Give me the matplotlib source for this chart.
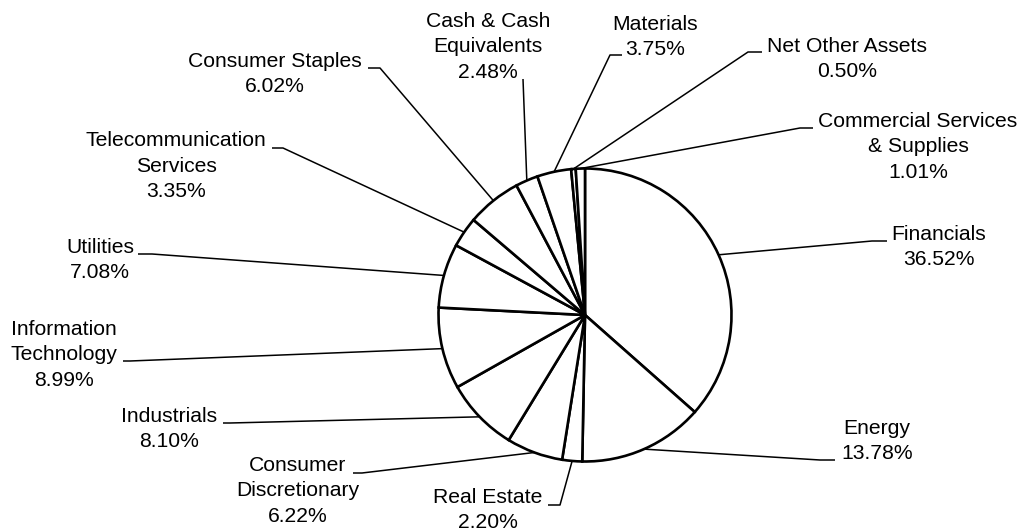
import matplotlib
matplotlib.use("Agg")
import matplotlib.pyplot as plt
import numpy as np

# data (clockwise from 12 o'clock)
sectors = ["Financials", "Energy", "Real Estate", "Consumer\nDiscretionary",
           "Industrials", "Information\nTechnology", "Utilities",
           "Telecommunication\nServices", "Consumer Staples",
           "Cash & Cash\nEquivalents", "Materials", "Net Other Assets",
           "Commercial Services\n& Supplies"]
weights = [36.52, 13.78, 2.20, 6.22, 8.10, 8.99, 7.08, 3.35, 6.02, 2.48, 3.75, 0.50, 1.01]

# figure in pixel units (y measured from top, converted below)
W, H = 1021, 531
cx, cy, r = 585, 315, 146.5

# label layout: text centre x, y ; leader elbow x0, x1, y
layout = [
    (939, 247, 872, 887, 241),
    (877, 441, 820, 835, 460),
    (488, 510, 548, 560, 505),
    (298, 491, 353, 362, 473),
    (169, 429, 223, 230, 423),
    (64, 355, 123, 130, 361),
    (100, 260, 138, 152, 254),
    (176, 166, 272, 283, 148),
    (275, 74, 368, 380, 68),
    (488, 47, 523, 523, 79),
    (655, 37, 610, 622, 55),
    (847, 59, 748, 762, 52),
    (918, 147, 800, 813, 128),
]

plt.rcParams['font.family'] = ['Liberation Sans', 'DejaVu Sans']

fig = plt.figure(figsize=(W / 100, H / 100), dpi=100)
ax = fig.add_axes([0, 0, 1, 1])

wedges, _ = ax.pie(weights,
                   startangle=90,
                   counterclock=False,
                   center=(cx, H - cy),
                   radius=r,
                   colors=["white"] * len(weights),
                   wedgeprops=dict(edgecolor="black", linewidth=1.9))

ax.set_xlim(0, W)
ax.set_ylim(0, H)
ax.set_aspect("equal")
ax.axis("off")

for w, name, val, (tx, ty, x0, x1, ly) in zip(wedges, sectors, weights, layout):
    mid = np.deg2rad((w.theta1 + w.theta2) / 2)
    px = w.center[0] + w.r * np.cos(mid)
    py = w.center[1] + w.r * np.sin(mid)
    # elbow end nearest the pie
    if abs(x0 - px) < abs(x1 - px):
        near, far = x0, x1
    else:
        near, far = x1, x0
    ax.plot([far, near, px], [H - ly, H - ly, py], color="black", linewidth=1.1,
            solid_capstyle="butt")
    ax.text(tx, H - ty, f"{name}\n{val:.2f}%", ha="center", va="center",
            fontsize=15.2, linespacing=1.45)

fig.savefig("out.png", dpi=100)
